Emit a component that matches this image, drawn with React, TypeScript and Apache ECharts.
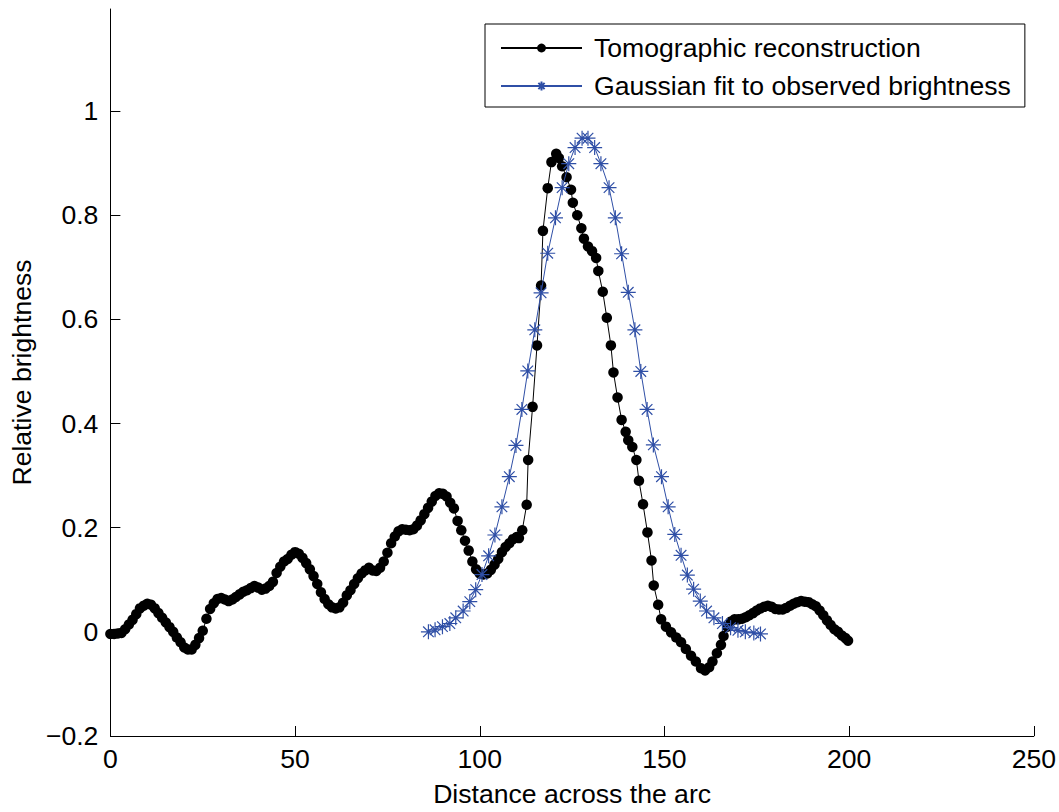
import React, { useEffect, useRef } from "react";
import * as echarts from "echarts";

// ---- Data ----
const tomoX: number[] = [
  0, 1, 2, 3, 4, 5, 6, 7, 8, 9, 10, 11, 12, 13, 14, 15, 16, 17, 18, 19,
  20, 21, 22, 23, 24, 25, 26, 27, 28, 29, 30, 31, 32, 33, 34, 35, 36, 37, 38, 39,
  40, 41, 42, 43, 44, 45, 46, 47, 48, 49, 50, 51, 52, 53, 54, 55, 56, 57, 58, 59,
  60, 61, 62, 63, 64, 65, 66, 67, 68, 69, 70, 71, 72, 73, 74, 75, 76, 77, 78, 79,
  80, 81, 82, 83, 84, 85, 86, 87, 88, 89, 90, 91, 92, 93, 94, 95, 96, 97, 98, 99,
  100, 101, 102, 103, 104, 105, 106, 107, 108, 109, 110, 110.6, 111.5, 112.7, 113.1,
  114.3, 115.5, 116.6, 117.1, 118.4, 119.4, 120.7, 121.4, 122.3, 123.5, 124.7, 125.2,
  126.4, 127.5, 128.2, 129.3, 130.4, 131.5, 132.1, 133.3, 134.4, 135.5, 136.2, 137.3,
  138.4, 139.5, 140.2, 141.3, 142.4, 143.1, 144.2, 145.4, 146.5, 147.1, 148.3, 149.1,
  150.4, 151.8, 153.2, 154.5, 155.8, 157.2, 158.5, 159.9, 161.0, 162.1, 163.0, 164.2,
  165.3, 166.0, 167.0, 168, 169, 170, 171, 172, 173, 174, 175, 176, 177, 178, 179,
  180, 181, 182, 183, 184, 185, 186, 187, 188, 189, 190, 191, 192, 193, 194, 195,
  196, 197, 198, 199, 199.7,
];
const tomoY: number[] = [
  -0.004, -0.004, -0.003, -0.002, 0.005, 0.014, 0.023, 0.034, 0.045, 0.05, 0.054, 0.052,
  0.045, 0.036, 0.027, 0.018, 0.009, 0.0, -0.011, -0.02, -0.03, -0.034, -0.034, -0.025,
  -0.012, 0.002, 0.025, 0.044, 0.055, 0.063, 0.065, 0.062, 0.059, 0.062, 0.067, 0.072,
  0.077, 0.08, 0.084, 0.088, 0.085, 0.081, 0.083, 0.088, 0.096, 0.113, 0.125, 0.135,
  0.14, 0.148, 0.153, 0.15, 0.142, 0.132, 0.12, 0.107, 0.092, 0.076, 0.063, 0.053,
  0.047, 0.045, 0.047, 0.056, 0.07, 0.08, 0.092, 0.103, 0.112, 0.118, 0.123, 0.118,
  0.117, 0.123, 0.135, 0.152, 0.17, 0.183, 0.193, 0.197, 0.196, 0.195, 0.197, 0.204,
  0.214, 0.226, 0.238, 0.25, 0.261, 0.266, 0.265, 0.26, 0.248, 0.237, 0.213, 0.195,
  0.175, 0.156, 0.135, 0.12, 0.112, 0.11, 0.112, 0.119, 0.129, 0.14, 0.153, 0.163,
  0.17, 0.178, 0.182, 0.18, 0.195, 0.244, 0.33,
  0.432, 0.55, 0.665, 0.77, 0.852, 0.902, 0.918, 0.91, 0.894, 0.873, 0.849, 0.824,
  0.8, 0.775, 0.755, 0.74, 0.731, 0.718, 0.693, 0.653, 0.603, 0.55, 0.498, 0.45,
  0.407, 0.384, 0.368, 0.355, 0.33, 0.29, 0.245, 0.191, 0.137, 0.089, 0.052, 0.024,
  0.01, -0.001, -0.011, -0.02, -0.033, -0.046, -0.057, -0.07, -0.074, -0.068, -0.057, -0.041,
  -0.025, -0.008, 0.01, 0.02, 0.024, 0.024, 0.025, 0.028, 0.032, 0.036, 0.041, 0.045,
  0.048, 0.05, 0.048, 0.044, 0.043, 0.043, 0.046, 0.05, 0.054, 0.057, 0.059, 0.058,
  0.057, 0.053, 0.049, 0.041, 0.032, 0.022, 0.013, 0.005, 0.0, -0.007, -0.012, -0.017,
];

const gaussX: number[] = [
  86.1, 87.9, 89.9, 91.9, 93.5, 95.5, 97.3, 98.9, 100.6, 102.4, 104.1, 106.0, 108.0,
  109.8, 111.4, 113.0, 114.9, 116.6, 118.4, 120.5, 122.3, 124.1, 125.8, 127.7, 129.3,
  131.1, 132.8, 135.0, 136.7, 138.4, 140.2, 142.0, 143.6, 145.3, 147.0, 149.2, 151.0,
  152.8, 154.5, 156.2, 157.9, 159.7, 161.4, 163.4, 165.7, 167.9, 169.9, 171.9, 174.2, 176.0,
];
const gaussY: number[] = [
  0.0, 0.004, 0.01, 0.016, 0.027, 0.04, 0.058, 0.081, 0.11, 0.146, 0.186, 0.24, 0.298,
  0.358, 0.427, 0.501, 0.58, 0.651, 0.727, 0.795, 0.853, 0.899, 0.93, 0.948, 0.948,
  0.93, 0.899, 0.853, 0.795, 0.726, 0.652, 0.58, 0.5, 0.427, 0.359, 0.298, 0.24,
  0.187, 0.147, 0.109, 0.082, 0.059, 0.04, 0.027, 0.016, 0.008, 0.003, 0.0, -0.002, -0.004,
];

const xTickStep = 50;
const yTicks: number[] = [-0.2, 0, 0.2, 0.4, 0.6, 0.8, 1];
const seriesNames = ["Tomographic reconstruction", "Gaussian fit to observed brightness"];
const xAxisTitle = "Distance across the arc";
const yAxisTitle = "Relative brightness";

const FONT = "'Liberation Sans', Arial, Helvetica, sans-serif";
const FS = 26.6;
const BLUE = "#2f4fa6";
const ASTERISK =
  "path://M0,-10L0,10M-10,0L10,0M-7.07,-7.07L7.07,7.07M-7.07,7.07L7.07,-7.07";

function fmtY(v: number): string {
  if (Math.abs(v) < 1e-9) return "0";
  if (Math.abs(v - 1) < 1e-9) return "1";
  const s = Math.abs(v).toFixed(1);
  return (v < 0 ? "\u2212" : "") + s;
}

export default function App() {
  const ref = useRef<HTMLDivElement>(null);

  useEffect(() => {
    if (!ref.current) return;
    const chart = echarts.init(ref.current, undefined, { renderer: "svg" });
    const tomoData = tomoX.map((x, i) => [x, tomoY[i]]);
    const gaussData = gaussX.map((x, i) => [x, gaussY[i]]);

    chart.setOption({
      animation: false,
      backgroundColor: "#ffffff",
      textStyle: { fontFamily: FONT, color: "#000" },
      grid: { left: 104, right: 23, top: 9, bottom: 71, containLabel: false },
      legend: {
        orient: "vertical",
        left: 485,
        top: 24,
        padding: [9, 14, 6, 15],
        itemWidth: 81,
        itemHeight: 11,
        itemGap: 8,
        borderColor: "#000",
        borderWidth: 1,
        backgroundColor: "#fff",
        textStyle: {
          fontSize: FS,
          color: "#000",
          fontFamily: FONT,
          lineHeight: 30,
          padding: [0, 0, 0, 7],
        },
        data: seriesNames,
      },
      xAxis: {
        type: "value",
        min: 0,
        max: 250,
        interval: xTickStep,
        name: xAxisTitle,
        nameLocation: "middle",
        nameGap: 44,
        nameTextStyle: { fontSize: FS, color: "#000", fontFamily: FONT },
        axisLine: { show: true, onZero: false, lineStyle: { color: "#000", width: 1 } },
        axisTick: { show: true, inside: true, length: 10, lineStyle: { color: "#000" } },
        axisLabel: { fontSize: FS, color: "#000", fontFamily: FONT, margin: 9 },
        splitLine: { show: false },
      },
      yAxis: {
        type: "value",
        min: -0.2,
        max: 1.196,
        name: yAxisTitle,
        nameLocation: "middle",
        nameGap: 61,
        nameTextStyle: { fontSize: FS, color: "#000", fontFamily: FONT },
        axisLine: { show: true, onZero: false, lineStyle: { color: "#000", width: 1 } },
        axisTick: {
          show: true,
          inside: true,
          length: 10,
          customValues: yTicks,
          lineStyle: { color: "#000" },
        },
        axisLabel: {
          fontSize: FS,
          color: "#000",
          fontFamily: FONT,
          margin: 12,
          customValues: yTicks,
          formatter: (v: number) => fmtY(v),
        },
        splitLine: { show: false },
      },
      series: [
        {
          name: seriesNames[0],
          type: "line",
          data: tomoData,
          symbol: "circle",
          symbolSize: 10.5,
          itemStyle: { color: "#000" },
          lineStyle: { color: "#000", width: 1 },
          z: 2,
        },
        {
          name: seriesNames[1],
          type: "line",
          data: gaussData,
          symbol: ASTERISK,
          symbolSize: 15,
          itemStyle: { color: BLUE, borderColor: BLUE, borderWidth: 1.2 },
          lineStyle: { color: BLUE, width: 1 },
          z: 3,
        },
      ],
    });

    return () => chart.dispose();
  }, []);

  return (
    <div
      ref={ref}
      style={{ position: "absolute", left: 0, top: 0, width: 1059, height: 812, background: "#fff" }}
    />
  );
}
